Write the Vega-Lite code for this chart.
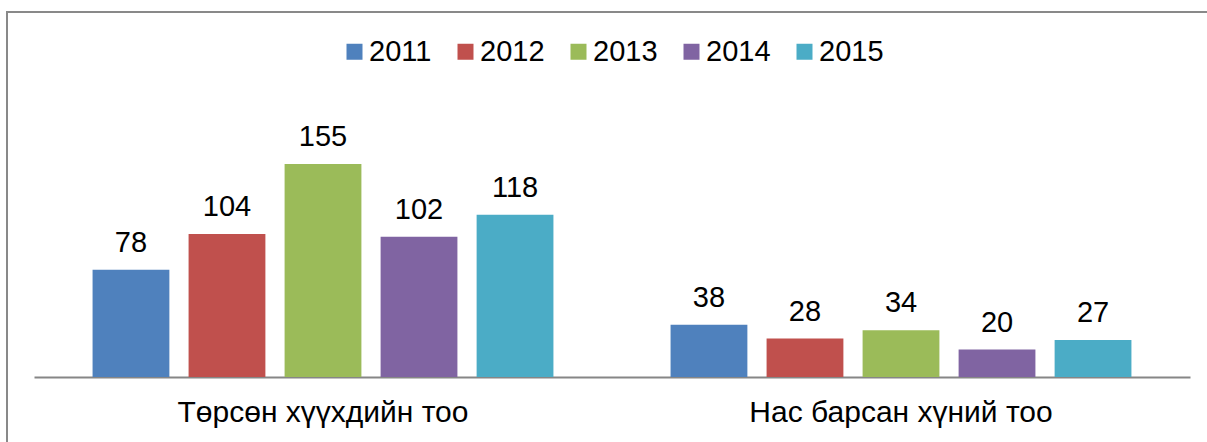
{
  "$schema": "https://vega.github.io/schema/vega-lite/v6.json",
  "autosize": "none",
  "width": 1210,
  "height": 440,
  "padding": {"left": 7, "top": 12, "right": 0, "bottom": 0},
  "background": "white",
  "config": {
    "view": {"stroke": "#898989", "strokeWidth": 2},
    "font": "Liberation Sans"
  },
  "data": {
    "values": [
      {"category": "Төрсөн хүүхдийн тоо", "year": "2011", "value": 78},
      {"category": "Төрсөн хүүхдийн тоо", "year": "2012", "value": 104},
      {"category": "Төрсөн хүүхдийн тоо", "year": "2013", "value": 155},
      {"category": "Төрсөн хүүхдийн тоо", "year": "2014", "value": 102},
      {"category": "Төрсөн хүүхдийн тоо", "year": "2015", "value": 118},
      {"category": "Нас барсан хүний тоо", "year": "2011", "value": 38},
      {"category": "Нас барсан хүний тоо", "year": "2012", "value": 28},
      {"category": "Нас барсан хүний тоо", "year": "2013", "value": 34},
      {"category": "Нас барсан хүний тоо", "year": "2014", "value": 20},
      {"category": "Нас барсан хүний тоо", "year": "2015", "value": 27}
    ]
  },
  "encoding": {
    "x": {
      "field": "category",
      "type": "nominal",
      "sort": null,
      "scale": {"range": [27, 1183], "paddingInner": 0, "paddingOuter": 0},
      "axis": {
        "title": null,
        "offset": -75,
        "labelAngle": 0,
        "labelFontSize": 30,
        "labelLimit": 0,
        "labelColor": "black",
        "labelPadding": 20,
        "ticks": false,
        "domainColor": "#868686",
        "domainWidth": 2
      }
    },
    "xOffset": {
      "field": "year",
      "type": "nominal",
      "scale": {"paddingInner": 0.2, "paddingOuter": 0.61}
    },
    "y": {
      "field": "value",
      "type": "quantitative",
      "scale": {"domain": [0, 200], "range": [365, 90], "nice": false},
      "axis": null
    }
  },
  "layer": [
    {
      "mark": {"type": "bar"},
      "encoding": {
        "color": {
          "field": "year",
          "type": "nominal",
          "scale": {
            "domain": ["2011", "2012", "2013", "2014", "2015"],
            "range": ["#4F81BD", "#C0504D", "#9BBB59", "#8064A2", "#4BACC6"]
          },
          "legend": {
            "title": null,
            "orient": "none",
            "legendX": 333,
            "legendY": 25,
            "direction": "horizontal",
            "symbolType": "square",
            "symbolSize": 256,
            "symbolStrokeWidth": 0,
            "labelFontSize": 29,
            "labelColor": "black",
            "labelOffset": 0,
            "columnPadding": 19
          }
        }
      }
    },
    {
      "mark": {"type": "text", "baseline": "bottom", "dy": -12, "fontSize": 29, "color": "black"},
      "encoding": {
        "text": {"field": "value", "type": "quantitative"}
      }
    }
  ]
}
